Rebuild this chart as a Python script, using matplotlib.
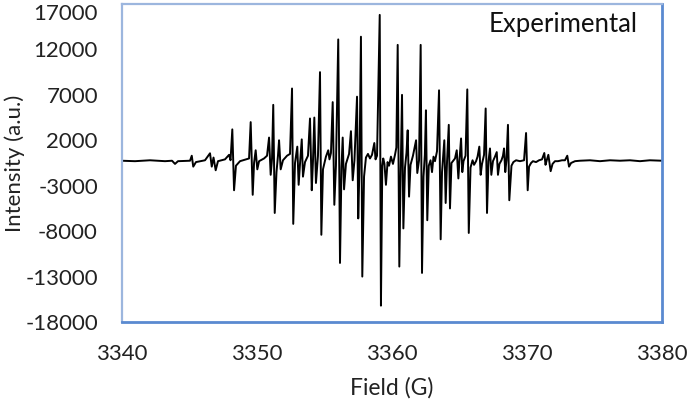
import matplotlib
matplotlib.use("Agg")
import matplotlib.pyplot as plt

# EPR spectrum vertices (field in G, intensity in a.u.)
field = [3340.00, 3341.00, 3342.11, 3343.22, 3343.74, 3343.96, 3344.18, 3345.07,
         3345.20, 3345.31, 3345.51, 3346.18, 3346.55, 3346.68, 3346.81, 3346.97,
         3347.14, 3347.66, 3347.96, 3348.07, 3348.20, 3348.33, 3348.47, 3348.77,
         3349.21, 3349.44, 3349.56, 3349.71, 3349.81, 3349.93, 3350.05, 3350.18,
         3350.55, 3350.77, 3350.92, 3351.04, 3351.14, 3351.23, 3351.34, 3351.47,
         3351.58, 3351.66, 3351.78, 3351.95, 3352.25, 3352.47, 3352.62, 3352.71,
         3352.84, 3353.01, 3353.11, 3353.21, 3353.34, 3353.43, 3353.58, 3353.80,
         3353.95, 3354.08, 3354.17, 3354.27, 3354.39, 3354.54, 3354.69, 3354.79,
         3354.91, 3355.13, 3355.30, 3355.39, 3355.50, 3355.63, 3355.75, 3355.87,
         3356.04, 3356.17, 3356.28, 3356.37, 3356.47, 3356.61, 3356.84, 3356.98,
         3357.11, 3357.24, 3357.43, 3357.52, 3357.61, 3357.72, 3357.82, 3357.95,
         3358.09, 3358.24, 3358.39, 3358.54, 3358.71, 3358.80, 3358.91, 3359.11,
         3359.20, 3359.30, 3359.37, 3359.46, 3359.57, 3359.69, 3359.80, 3359.94,
         3360.09, 3360.24, 3360.34, 3360.44, 3360.56, 3360.66, 3360.76, 3360.86,
         3360.98, 3361.09, 3361.18, 3361.28, 3361.39, 3361.57, 3361.80, 3361.89,
         3362.02, 3362.14, 3362.24, 3362.35, 3362.45, 3362.53, 3362.63, 3362.74,
         3362.87, 3362.98, 3363.09, 3363.20, 3363.35, 3363.50, 3363.62, 3363.72,
         3363.89, 3363.99, 3364.09, 3364.22, 3364.31, 3364.42, 3364.57, 3364.68,
         3364.81, 3364.93, 3365.01, 3365.13, 3365.22, 3365.31, 3365.46, 3365.59,
         3365.70, 3365.83, 3365.98, 3366.09, 3366.24, 3366.35, 3366.48, 3366.58,
         3366.68, 3366.83, 3366.95, 3367.05, 3367.16, 3367.27, 3367.37, 3367.49,
         3367.64, 3367.77, 3367.86, 3367.97, 3368.12, 3368.23, 3368.31, 3368.40,
         3368.49, 3368.60, 3368.70, 3368.79, 3368.86, 3369.00, 3369.20, 3369.49,
         3369.79, 3369.94, 3370.06, 3370.16, 3370.31, 3370.45, 3370.68, 3370.90,
         3371.12, 3371.29, 3371.38, 3371.47, 3371.59, 3371.76, 3371.90, 3372.08,
         3372.30, 3372.60, 3372.82, 3372.99, 3373.12, 3373.27, 3373.56, 3373.93,
         3374.67, 3375.41, 3376.15, 3376.89, 3377.63, 3378.37, 3379.10, 3380.00]

intensity = [-250, -300, -200, -300, -250, -600, -300, -250,
             300, -900, -400, -200, 570, -900, 100, -1300,
             -300, -100, 400, -200, 3200, -3500, -800, -300,
             -100, 0, 4000, -4000, -500, 900, -1200, -300,
             0, 300, 2300, -1800, 0, 5900, -6000, -1500,
             300, 2000, -1200, -200, 300, 500, 7700, -7200,
             -500, 1300, -2900, -600, 2100, -2000, -400, 300,
             4400, -3500, -300, 4500, -2700, 300, 9500, -8400,
             -1200, 200, 900, -100, 600, 6200, -5100, -800,
             13100, -11500, -1000, 2300, -3400, -600, 500, 3000,
             -2400, -200, 6800, -6600, -1000, 13400, -13000, -2000,
             100, 500, 0, 400, 1700, -100, 300, 15800,
             -16200, -800, 0, -600, -2900, -400, -800, 200,
             -600, 400, 1200, 12500, -11900, -1500, 7000, -7700,
             -1000, 600, 3100, -4200, -700, 300, 2000, -1600,
             -200, 12500, -12600, -2000, 400, 5300, -6800, -800,
             -200, -1500, 200, -300, 800, 7500, -8900, -1500,
             2000, -4900, -400, 3700, -5500, -500, -200, 0,
             900, -2200, -200, 2200, -1500, -300, 300, 7600,
             -8200, -1000, -200, -700, -300, 200, 1300, -1800,
             -600, 400, 5500, -6000, -300, 1100, -1800, -300,
             200, 700, -1800, -600, -200, 300, 1100, -1500,
             -200, 3700, -4600, -2500, -800, -400, -200, -300,
             -200, 2800, -3500, -900, -500, -300, -400, -200,
             -100, 600, -700, -200, 400, -1400, -600, -300,
             -300, -200, -200, 300, -900, -500, -300, -250,
             -200, -300, -200, -250, -200, -300, -200, -250]

x_ticks = [3340, 3350, 3360, 3370, 3380]
y_ticks = [17000, 12000, 7000, 2000, -3000, -8000, -13000, -18000]
x_label = "Field (G)"
y_label = "Intensity (a.u.)"
series_label = "Experimental"

plt.rcParams['font.family'] = ['Lato', 'DejaVu Sans']

fig = plt.figure(figsize=(6.88, 4.01), dpi=100)
ax = fig.add_axes([121.5 / 688, 1 - 322 / 401, (662 - 121.5) / 688, (322 - 4) / 401])

ax.plot(field, intensity, color='black', linewidth=1.4, solid_joinstyle='round')

ax.set_xlim(3340, 3380)
ax.set_ylim(-18000, 17000)
ax.set_xticks(x_ticks)
ax.set_yticks(y_ticks)
ax.set_xticklabels([str(t) for t in x_ticks])
ax.set_yticklabels([str(t) for t in y_ticks])
ax.tick_params(axis='both', length=0, labelsize=16, colors='#222222')
ax.tick_params(axis='x', pad=16)
ax.tick_params(axis='y', pad=17)

# keep the top tick label inside the picture, as the reference does
for lab in ax.get_yticklabels():
    if lab.get_text() == str(max(y_ticks)):
        lab.set_verticalalignment('top')

for side in ('top', 'left'):
    ax.spines[side].set_color('#9CB6DE')
    ax.spines[side].set_linewidth(1.6)
for side in ('bottom', 'right'):
    ax.spines[side].set_color('#5A8AD0')
    ax.spines[side].set_linewidth(2.0)

ax.set_xlabel(x_label, fontsize=16.5, color='#222222', labelpad=9)
ax.set_ylabel(y_label, fontsize=16, color='#222222')
ax.yaxis.label.set_verticalalignment('center')
ax.yaxis.set_label_coords(-0.197, 0.5)

ax.text(0.68, 0.934, series_label, transform=ax.transAxes, fontsize=18.5,
        ha='left', va='center', color='#111111')

fig.savefig('out.png', dpi=100)
